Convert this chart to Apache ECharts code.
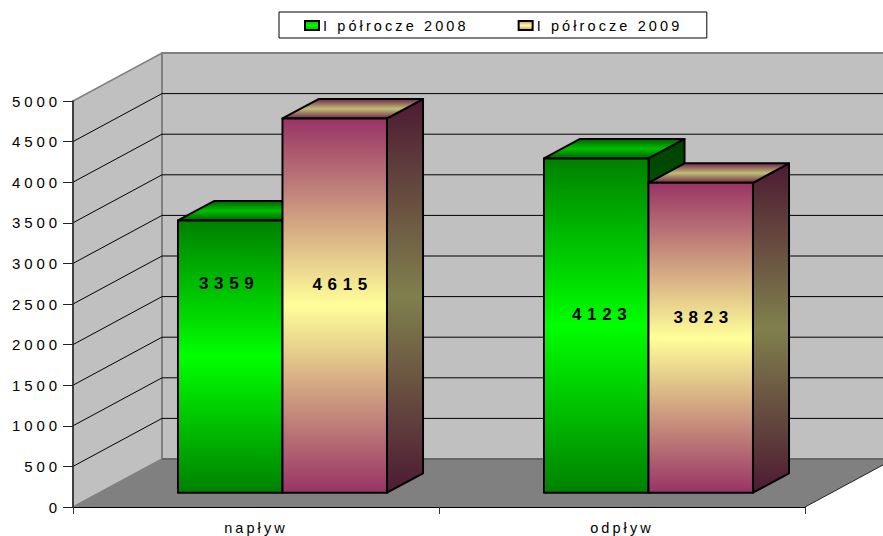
<!DOCTYPE html>
<html>
<head>
<meta charset="utf-8">
<style>
html,body{margin:0;padding:0;background:#fff}
#charts{width:883px;height:536px;letter-spacing:3.1px}
#charts svg text[style*="15px"]{letter-spacing:3.9px}
#charts svg text[style*="bold"]{letter-spacing:5.7px}
</style>
<script src="https://cdn.jsdelivr.net/npm/echarts@6/dist/echarts.min.js"></script>
</head>
<body>
<div id="charts"></div>
<script>
var categories = ['napływ', 'odpływ'];
var seriesNames = ['I półrocze 2008', 'I półrocze 2009'];
var values2008 = [3359, 4123];
var values2009 = [4615, 3823];
var yTicks = [0, 500, 1000, 1500, 2000, 2500, 3000, 3500, 4000, 4500, 5000];

// depth of the fake 3d box, in pixels
var DX = 89, DY = 48;
var BAR_DEPTH = 0.405;
// label nudges from the centre of each front face [series][category]
var labelNudge = [[[-1, -73], [6, -11]], [[8, -21], [3, -20]]];

function grad(c1, c2) {
    return new echarts.graphic.LinearGradient(0, 0, 0, 1, [
        { offset: 0, color: c1 }, { offset: 0.5, color: c2 }, { offset: 1, color: c1 }
    ]);
}
var faces = [
    { front: ['#008000', '#00ff00'], top: ['#006000', '#00c000'], side: ['#004000', '#008000'] },
    { front: ['#993366', '#ffff99'], top: ['#732650', '#bfbf73'], side: ['#4d1a33', '#80804d'] }
];

function renderWalls(params, api) {
    var o = api.coord([0, 0]);
    var band = api.size([1, 0])[0];
    var x0 = o[0] - band / 2;
    var x1 = x0 + band * categories.length;
    var y0 = o[1];
    var yMax = yTicks[yTicks.length - 1];
    var yTop = api.coord([0, yMax])[1];
    var kids = [
        { type: 'polygon', shape: { points: [[x0, y0], [x0 + DX, y0 - DY], [x0 + DX, yTop - DY], [x0, yTop]] }, style: { fill: '#c0c0c0', stroke: '#808080', lineWidth: 1.5 } },
        { type: 'rect', shape: { x: x0 + DX, y: yTop - DY, width: x1 - x0, height: y0 - yTop }, style: { fill: '#c0c0c0', stroke: '#808080', lineWidth: 2 } },
        { type: 'polygon', shape: { points: [[x0, y0], [x0 + DX, y0 - DY], [x1 + DX, y0 - DY], [x1, y0]] }, style: { fill: '#808080' } },
        { type: 'line', shape: { x1: x0 + DX, y1: y0 - DY, x2: x1 + DX, y2: y0 - DY }, style: { stroke: '#666', lineWidth: 2 } },
        { type: 'line', shape: { x1: x1, y1: y0, x2: x1 + DX, y2: y0 - DY }, style: { stroke: '#222', lineWidth: 1 } }
    ];
    yTicks.forEach(function (t) {
        if (t === 0 || t === yMax) return;
        var y = api.coord([0, t])[1];
        kids.push({ type: 'line', shape: { x1: x0 + DX, y1: y - DY, x2: x1 + DX, y2: y - DY }, style: { stroke: '#000', lineWidth: 1 } });
        kids.push({ type: 'line', shape: { x1: x0, y1: y, x2: x0 + DX, y2: y - DY }, style: { stroke: '#000', lineWidth: 1 } });
    });
    return { type: 'group', children: kids };
}

function renderBar(params, api) {
    var s = params.seriesIndex - 1;
    var cat = api.value(0);
    var val = api.value(1);
    var top = api.coord([cat, val]);
    var base = api.coord([cat, 0]);
    var band = api.size([1, 0])[0];
    var w = band * 0.2855;
    var dx = DX * BAR_DEPTH, dy = DY * BAR_DEPTH;
    var shiftX = (DX - dx) / 2, shiftY = (DY - dy) / 2;
    var l = base[0] + shiftX + (s === 0 ? -w : 0);
    var r = l + w;
    var b = base[1] - shiftY;
    var t = top[1] - shiftY + 0.5;
    var f = faces[s];
    var edge = { stroke: '#000', lineWidth: 2, lineJoin: 'round' };
    var nudge = labelNudge[s][cat];
    return {
        type: 'group',
        children: [
            { type: 'polygon', shape: { points: [[r, t], [r + dx, t - dy], [r + dx, b - dy], [r, b]] }, style: Object.assign({ fill: grad(f.side[0], f.side[1]) }, edge) },
            { type: 'polygon', shape: { points: [[l, t], [l + dx, t - dy], [r + dx, t - dy], [r, t]] }, style: Object.assign({ fill: grad(f.top[0], f.top[1]) }, edge) },
            { type: 'rect', shape: { x: l, y: t, width: w, height: b - t }, style: Object.assign({ fill: grad(f.front[0], f.front[1]) }, edge) },
            { type: 'text', z2: 10, style: { text: String(val), x: (l + r) / 2 + nudge[0], y: (t + b) / 2 + nudge[1], align: 'center', verticalAlign: 'middle', fill: '#000', font: 'bold 17px "Liberation Sans", Arial, sans-serif' } }
        ]
    };
}

function toData(arr) {
    return arr.map(function (v, i) { return [i, v]; });
}

var myChart = echarts.init(document.getElementById('charts'), null, { renderer: 'svg' });
var textFont = { fontFamily: '"Liberation Sans", Arial, sans-serif', fontSize: 14.5, color: '#000' };

myChart.setOption({
    animation: false,
    backgroundColor: '#fff',
    legend: {
        data: seriesNames.map(function (n) { return { name: n, icon: 'rect' }; }),
        left: 279,
        top: 12,
        orient: 'horizontal',
        padding: [6, 71, 5, 25],
        itemGap: 95.5,
        itemWidth: 14,
        itemHeight: 9,
        backgroundColor: '#fff',
        borderColor: '#000',
        borderWidth: 1,
        selectedMode: false,
        textStyle: Object.assign({ padding: [0, 0, 0, -1] }, textFont)
    },
    grid: { left: 73, right: 78, top: 101, bottom: 29 },
    xAxis: {
        type: 'category',
        data: categories,
        z: 3,
        axisLine: { show: true, onZero: false, lineStyle: { color: '#000', width: 1 } },
        axisTick: { show: true, alignWithLabel: false, length: 7, lineStyle: { color: '#333' } },
        axisLabel: Object.assign({ margin: 13 }, textFont),
        splitLine: { show: false }
    },
    yAxis: {
        type: 'value',
        min: yTicks[0],
        max: yTicks[yTicks.length - 1],
        interval: 500,
        z: 3,
        axisLine: { show: true, lineStyle: { color: '#222', width: 1.5 } },
        axisTick: { show: true, length: 10, lineStyle: { color: '#222' } },
        axisLabel: Object.assign({ margin: 12, padding: [2, 0, 0, 0], formatter: function (v) { return String(v); } }, textFont, { fontSize: 15 }),
        splitLine: { show: false }
    },
    series: [
        { type: 'custom', name: 'walls', silent: true, z: 1, clip: false, renderItem: renderWalls, data: [[0, 0]] },
        { type: 'custom', name: seriesNames[0], z: 2, renderItem: renderBar, data: toData(values2008), itemStyle: { color: grad('#00c000', '#00ff00'), borderColor: '#000', borderWidth: 1 } },
        { type: 'custom', name: seriesNames[1], z: 2, renderItem: renderBar, data: toData(values2009), itemStyle: { color: grad('#c8907a', '#ffff99'), borderColor: '#000', borderWidth: 1 } }
    ]
});
window.addEventListener('resize', function () {
    myChart.resize();
});
</script>
</body>
</html>
